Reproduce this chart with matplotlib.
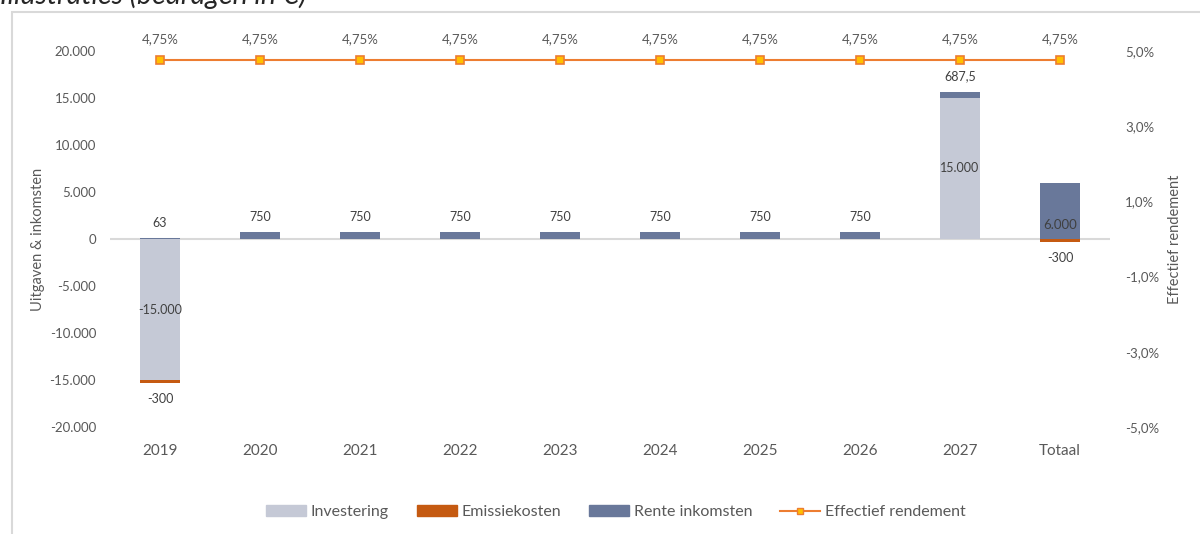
import matplotlib.pyplot as plt
from matplotlib.patches import Rectangle
from matplotlib.lines import Line2D
import numpy as np

plt.rcParams['font.family'] = ['Lato', 'DejaVu Sans']

jaren = ["2019", "2020", "2021", "2022", "2023", "2024", "2025", "2026", "2027", "Totaal"]
investering = [-15000, 0, 0, 0, 0, 0, 0, 0, 15000, 0]
emissiekosten = [-300, 0, 0, 0, 0, 0, 0, 0, 0, -300]
rente = [63, 750, 750, 750, 750, 750, 750, 750, 687.5, 6000]
rendement = [4.75] * 10

rente_labels = ["63", "750", "750", "750", "750", "750", "750", "750", "687,5", "6.000"]
inv_labels = {0: "-15.000", 8: "15.000"}
em_labels = {0: "-300", 9: "-300"}

c_inv = "#c5c9d6"
c_em = "#c55a11"
c_rente = "#69789a"
c_line = "#ed7d31"
grijs = "#595959"

fig = plt.figure(figsize=(12, 5.34), dpi=100)
ax = fig.add_axes([110/1200, 1-427/534, 1000/1200, 376/534])
x = np.arange(len(jaren))
w = 0.4

# stapeling: positief boven investering, negatief onder investering
inv = np.array(investering, dtype=float)
em = np.array(emissiekosten, dtype=float)
re = np.array(rente, dtype=float)
em_bottom = np.where(inv < 0, inv, 0)
re_bottom = np.where(inv > 0, inv, 0)

ax.bar(x, inv, w, color=c_inv, zorder=2)
ax.bar(x, em, w, bottom=em_bottom, color=c_em, zorder=2)
ax.bar(x, re, w, bottom=re_bottom, color=c_rente, zorder=2)

ax.axhline(0, color="#d9d9d9", lw=1.5, zorder=1)
ax.set_xlim(-0.5, len(jaren) - 0.5)
ax.set_ylim(-20000, 20000)
ax.set_yticks(np.arange(-20000, 20001, 5000))
ax.set_yticklabels([f"{v:,.0f}".replace(",", ".") for v in np.arange(-20000, 20001, 5000)])
ax.set_xticks([])
ax.tick_params(axis="y", length=0, labelsize=9.5, labelcolor=grijs, pad=10)
for s in ax.spines.values():
    s.set_visible(False)
ax.set_ylabel("Uitgaven & inkomsten", fontsize=10.5, color=grijs, labelpad=3)

for i in x:
    if i in inv_labels:
        ax.text(i, inv[i] / 2, inv_labels[i], ha="center", va="center", fontsize=9, color="#404040", zorder=4)
    if i in em_labels:
        ax.text(i, em_bottom[i] + em[i] - 1100, em_labels[i], ha="center", va="top", fontsize=9, color="#404040")
    if i == 9:
        ax.text(i, 900, rente_labels[i], ha="center", va="bottom", fontsize=9.5, color="#404040", zorder=4)
    else:
        ax.text(i, re_bottom[i] + re[i] + 1000, rente_labels[i], ha="center", va="bottom", fontsize=9, color="#404040")

for i, j in enumerate(jaren):
    ax.text(i, -21800, j, ha="center", va="top", fontsize=11, color=grijs)

ax2 = ax.twinx()
ax2.set_ylim(-5, 5)
ax2.set_yticks([-5, -3, -1, 1, 3, 5])
ax2.set_yticklabels([f"{v:.1f}%".replace(".", ",") for v in [-5, -3, -1, 1, 3, 5]])
ax2.tick_params(axis="y", length=0, labelsize=9.5, labelcolor=grijs, pad=11)
for s in ax2.spines.values():
    s.set_visible(False)
ax2.plot(x, rendement, color=c_line, lw=1.5, marker="s", ms=5.5, mfc="#ffc000", mec=c_line, mew=1.2, zorder=5, clip_on=False)
for i, r in enumerate(rendement):
    ax2.text(i, r + 0.4, f"{r:.2f}%".replace(".", ","), ha="center", va="bottom", fontsize=9.5, color=grijs, clip_on=False)
ax2.set_ylabel("Effectief rendement", fontsize=10.5, color=grijs, labelpad=6)

handles = [Rectangle((0, 0), 1, 1, color=c_inv), Rectangle((0, 0), 1, 1, color=c_em),
           Rectangle((0, 0), 1, 1, color=c_rente),
           Line2D([], [], color=c_line, lw=1.5, marker="s", ms=5, mfc="#ffc000", mec=c_line)]
fig.legend(handles, ["Investering", "Emissiekosten", "Rente inkomsten", "Effectief rendement"],
           loc="center", bbox_to_anchor=(616/1200, 1-512/534), ncol=4, frameon=False,
           fontsize=11.5, labelcolor=grijs, handlelength=2.5, handleheight=0.7, columnspacing=1.75, handletextpad=0.3)

fig.patches.append(Rectangle((12/1200, -0.1), 1.2, 1.1 - 12/534, transform=fig.transFigure,
                             fill=False, ec="#d9d9d9", lw=1.5, zorder=0))
fig.text(0.0, 1 - 4/534, "Illustraties (bedragen in €)", fontsize=20.5, style="italic", color="#262626",
         ha="left", va="baseline")

fig.savefig("out.png", dpi=100)
